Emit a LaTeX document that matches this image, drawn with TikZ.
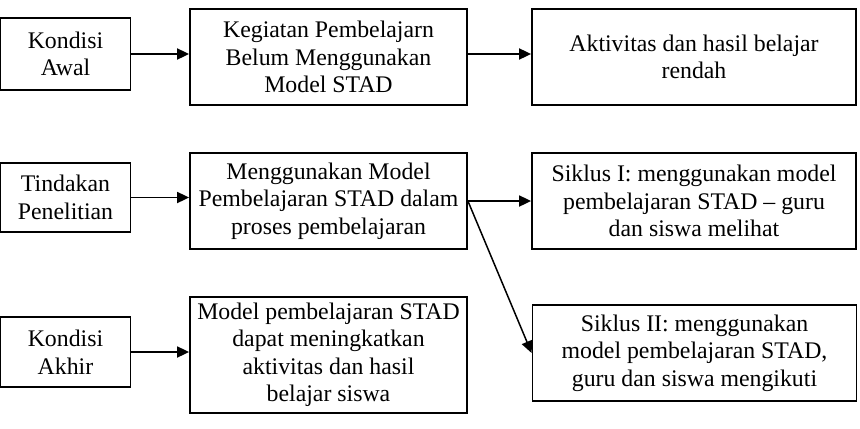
\documentclass[tikz,border=0pt]{standalone}
\usepackage{fontspec}
\setmainfont{Liberation Serif}
\usepackage{tikz}
\usetikzlibrary{arrows.meta,positioning}
\tikzset{
  kotak/.style={draw,line width=0.9pt,align=center,inner sep=0pt,font=\fontsize{11.9}{13.75}\selectfont},
  kecil/.style={kotak,minimum width=65pt,minimum height=35pt},
  tengah/.style={kotak,minimum width=138.5pt,minimum height=48pt},
  kanan/.style={kotak,minimum width=162pt,minimum height=48pt},
  panah/.style={-{Triangle[length=6pt,width=5.5pt]},line width=0.9pt},
}

\begin{document}
\begin{tikzpicture}[x=0.5pt,y=-0.5pt]
  \useasboundingbox (0,0) rectangle (860,428);
  % baris 1
  \node[kecil,minimum height=36pt] (awal) at (65.5,54) {Kondisi\\Awal};
  \node[tengah] (kegiatan) at (328.5,57) {Kegiatan Pembelajarn\\Belum Menggunakan\\Model STAD};
  \node[kanan] (rendah) at (694,57) {Aktivitas dan hasil belajar\\rendah};
  % baris 2
  \node[kecil,minimum height=34.5pt] (tindakan) at (65.5,197.5) {Tindakan\\Penelitian};
  \node[tengah] (stad) at (328.5,201) {Menggunakan Model\\Pembelajaran STAD dalam\\proses pembelajaran};
  \node[kanan] (siklus1) at (694,201) {Siklus I: menggunakan model\\pembelajaran STAD -- guru\\dan siswa melihat};
  % baris 3
  \node[kecil] (akhir) at (65.5,352) {Kondisi\\Akhir};
  \node[tengah,minimum height=58pt] (hasil) at (328.5,355) {Model pembelajaran STAD\\dapat meningkatkan\\aktivitas dan hasil\\belajar siswa};
  \node[kanan] (siklus2) at (694.5,353) {Siklus II: menggunakan\\model pembelajaran STAD,\\guru dan siswa mengikuti};
  % panah
  \draw[panah] (awal.east) -- (awal -| kegiatan.west);
  \draw[panah] (kegiatan.east |- awal) -- (rendah.west |- awal);
  \draw[panah] (tindakan.east) -- (tindakan -| stad.west);
  \draw[panah] (stad.east) -- (siklus1.west);
  \draw[panah,line width=0.75pt] (stad.east) -- (siklus2.west);
  \draw[panah] (akhir.east) -- (akhir -| hasil.west);
\end{tikzpicture}
\end{document}
